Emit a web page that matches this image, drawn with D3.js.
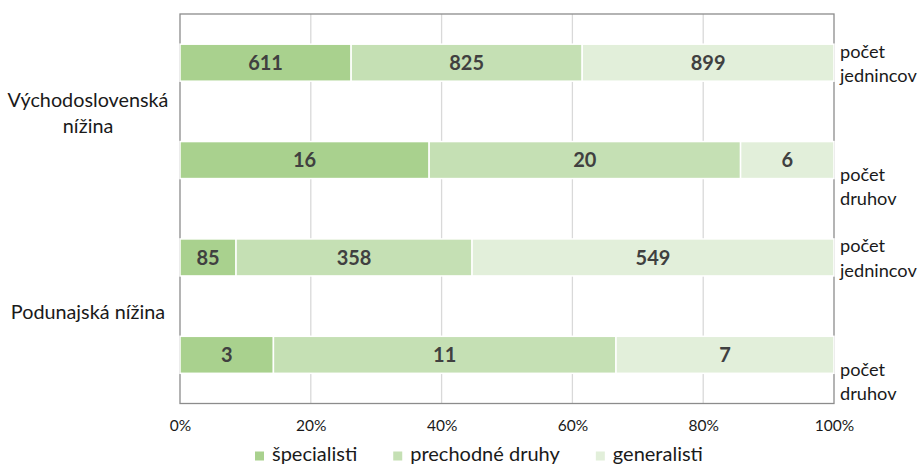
<!DOCTYPE html>
<html><head><meta charset="utf-8">
<script src="https://cdn.jsdelivr.net/npm/d3@7"></script>
<style>body{margin:0;background:#fff}svg{display:block}</style>
</head><body>
<svg id="chart" width="920" height="465"></svg>
<script>
const groups = ["Východoslovenská|nížina", "Podunajská nížina"];
const measures = ["počet|jednincov", "počet|druhov", "počet|jednincov", "počet|druhov"];
const barGroup = [0, 0, 1, 1];
const seriesNames = ["špecialisti", "prechodné druhy", "generalisti"];
const specialisti = [611, 16, 85, 3];
const prechodne = [825, 20, 358, 11];
const generalisti = [899, 6, 549, 7];
const tickValues = [0, 0.2, 0.4, 0.6, 0.8, 1];
const tickLabels = ["0%", "20%", "40%", "60%", "80%", "100%"];
const colors = ["#a9d18e", "#c5e0b4", "#e2efda"];

const FONT = "Lato, 'Open Sans', sans-serif";
const svg = d3.select("#chart");
const L = 180, R = 834, T = 14, B = 403.5;

const x = d3.scaleLinear().domain([0, 1]).range([L, R]);
const y = d3.scaleBand().domain(d3.range(4)).range([T, B]).paddingInner(0.62).paddingOuter(0.31);

const seriesVals = [specialisti, prechodne, generalisti];
const rows = d3.range(4).map(i => {
  const o = {i};
  seriesNames.forEach((s, k) => o[s] = seriesVals[k][i]);
  return o;
});
const stacked = d3.stack().keys(seriesNames).offset(d3.stackOffsetExpand)(rows);

// gridlines
svg.append("g").selectAll("line").data(tickValues.slice(1, -1)).join("line")
  .attr("x1", d => x(d)).attr("x2", d => x(d)).attr("y1", T).attr("y2", B)
  .attr("stroke", "#d9d9d9").attr("stroke-width", 1.3);

// plot border
svg.append("rect").attr("x", L).attr("y", T).attr("width", R - L).attr("height", B - T)
  .attr("fill", "none").attr("stroke", "#8c8c8c").attr("stroke-width", 1.3);

// bars
const gBars = svg.append("g");
stacked.forEach((layer, k) => {
  gBars.selectAll(null).data(layer).join("rect")
    .attr("x", d => x(d[0])).attr("width", d => x(d[1]) - x(d[0]))
    .attr("y", d => y(d.data.i)).attr("height", y.bandwidth())
    .attr("fill", colors[k]).attr("stroke", "#fff").attr("stroke-width", 1.5);
  gBars.selectAll(null).data(layer).join("text")
    .attr("x", d => (x(d[0]) + x(d[1])) / 2)
    .attr("y", d => y(d.data.i) + y.bandwidth() / 2)
    .attr("dy", "0.36em").attr("text-anchor", "middle")
    .attr("font-family", FONT).attr("font-weight", "bold").attr("font-size", 20)
    .attr("fill", "#404040")
    .text(d => d.data[seriesNames[k]]);
});

// right labels
const rl = svg.append("g");
measures.forEach((m, i) => {
  const lines = m.split("|");
  const cy = y(i) + y.bandwidth() / 2;
  const off = (i % 2 === 0) ? [-11, 13.5] : [15.5, 39];
  lines.forEach((t, j) => {
    rl.append("text").attr("x", R + 6).attr("y", cy + off[j]).attr("dy", "0.32em")
      .attr("font-family", FONT).attr("font-size", 18.2).attr("fill", "#1a1a1a").text(t);
  });
});

// group labels
const gl = svg.append("g");
groups.forEach((g, gi) => {
  const idx = d3.range(4).filter(i => barGroup[i] === gi);
  const cy = (y(idx[0]) - y.step() * y.paddingInner() / 2 + y(idx[idx.length - 1]) + y.bandwidth() + y.step() * y.paddingInner() / 2) / 2;
  const lines = g.split("|");
  const base = cy + (lines.length === 1 ? 7 : 2);
  lines.forEach((t, j) => {
    gl.append("text").attr("x", 88).attr("y", base + (j - (lines.length - 1) / 2) * 26)
      .attr("dy", "0.32em").attr("text-anchor", "middle")
      .attr("font-family", FONT).attr("font-size", 19.8).attr("fill", "#1a1a1a").text(t);
  });
});

// x axis tick labels
const ax = svg.append("g").attr("transform", `translate(0,${B})`)
  .call(d3.axisBottom(x).tickValues(tickValues).tickFormat((d, i) => tickLabels[i]).tickSize(0).tickPadding(16));
ax.select(".domain").remove();
ax.selectAll("text").attr("font-family", FONT).attr("font-size", 15.5).attr("fill", "#1a1a1a");

// legend
const leg = svg.append("g");
let lx = 255;
seriesNames.forEach((s, k) => {
  leg.append("rect").attr("x", lx).attr("y", 451.5).attr("width", 9).attr("height", 9).attr("fill", colors[k]);
  const t = leg.append("text").attr("x", lx + 17).attr("y", 460.5)
    .attr("font-family", FONT).attr("font-size", 20).attr("fill", "#1a1a1a").text(s);
  lx += 17 + t.node().getComputedTextLength() + 36;
});
</script>
</body></html>
